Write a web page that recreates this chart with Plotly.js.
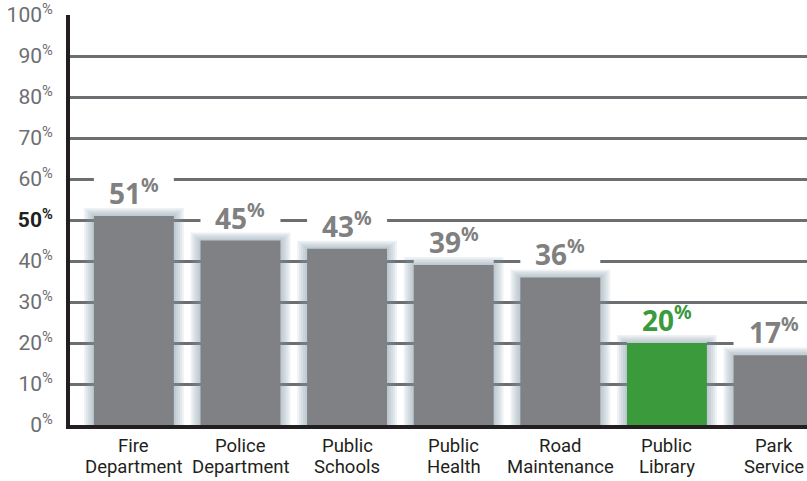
<!DOCTYPE html>
<html>
<head>
<meta charset="utf-8">
<script src="https://cdn.plot.ly/plotly-3.0.1.min.js"></script>
<style>html,body{margin:0;padding:0;background:#fff;}#chart{width:807px;height:481px;}</style>
</head>
<body>
<div id="chart"></div>
<script>
// ---- data ----
const categories = ["Fire<br>Department", "Police<br>Department", "Public<br>Schools", "Public<br>Health", "Road<br>Maintenance", "Public<br>Library", "Park<br>Service"];
const values = [51, 45, 43, 39, 36, 20, 17];
const highlightCategory = "Public<br>Library";
const yTickValues = [0, 10, 20, 30, 40, 50, 60, 70, 80, 90, 100];
const referenceLine = 50;

// ---- style ----
const GRAY_BAR = "#808184";
const GREEN = "#3a9a3c";
const LABEL_GRAY = "#808080";
const DARK = "#231f20";
const FONT = "Roboto";
const BOLD_FONT = "Noto Sans";
const pxPerCat = 106.6;
const barWidth = 0.75;

const barColors = categories.map(c => c === highlightCategory ? GREEN : GRAY_BAR);
const labelColors = categories.map(c => c === highlightCategory ? GREEN : LABEL_GRAY);

const traces = [];
// white mask column above each bar (hides gridlines behind the value label)
traces.push({
  type: "bar", x: categories, y: values.map(() => 9.5), base: values,
  width: barWidth, marker: {color: "#ffffff", line: {width: 0}}, hoverinfo: "skip"
});
// soft glow
for (let k = 10; k >= 2; k -= 2) {
  traces.push({
    type: "bar", x: categories, y: values.map(v => v + k / 4.1 * 0.8),
    width: barWidth + 2 * k / pxPerCat,
    marker: {color: "rgba(125,145,168,0.12)", line: {width: 0}}, hoverinfo: "skip"
  });
}
// main bars
traces.push({
  type: "bar", x: categories, y: values, width: barWidth,
  marker: {color: barColors, line: {width: 0}}, hoverinfo: "x+y"
});

const annotations = [];
values.forEach((v, i) => {
  annotations.push({
    xref: "x", yref: "y", x: categories[i], y: v, yanchor: "bottom", yshift: 2,
    showarrow: false,
    text: "<b>" + v + "</b><sup><b>%</b></sup>",
    font: {family: BOLD_FONT, size: 28, color: labelColors[i]}
  });
});
categories.forEach(c => {
  const parts = c.split("<br>");
  parts.forEach((p, j) => {
    annotations.push({
      xref: "x", yref: "paper", x: c, y: 0, yanchor: "top", yshift: -8 - j * 21,
      showarrow: false, text: p,
      font: {family: FONT, size: 18.5, color: DARK}
    });
  });
});

const tickText = yTickValues.map(t => t === referenceLine
  ? "<span style='color:" + DARK + "'><b>" + t + "</b><sup><b>%</b></sup></span>"
  : t + "<sup>%</sup>");

const layout = {
  width: 807, height: 481,
  margin: {l: 70, r: 0, t: 15, b: 56, pad: 0},
  paper_bgcolor: "#ffffff", plot_bgcolor: "#ffffff",
  showlegend: false, barmode: "overlay",
  xaxis: {
    type: "category", range: [-0.599, 6.314], showticklabels: false, ticks: "",
    showgrid: false, zeroline: false, showline: true, linecolor: DARK, linewidth: 4,
    fixedrange: true
  },
  yaxis: {
    range: [0, 100], tickvals: yTickValues, ticktext: tickText, ticks: "",
    tickfont: {family: FONT, size: 21, color: "#6d6e71"},
    ticklabelstandoff: 9, ticklabeloverflow: "allow",
    showgrid: true, gridcolor: "#6d6e71", gridwidth: 3,
    zeroline: false, showline: true, linecolor: DARK, linewidth: 4, fixedrange: true
  },
  yaxis2: {
    overlaying: "y", range: [0, 100], tickvals: [referenceLine], showticklabels: false, ticks: "",
    showgrid: true, gridcolor: DARK, gridwidth: 6, zeroline: false, showline: false, fixedrange: true
  },
  annotations: annotations
};

Plotly.newPlot("chart", traces, layout, {displayModeBar: false, staticPlot: true});
</script>
</body>
</html>
